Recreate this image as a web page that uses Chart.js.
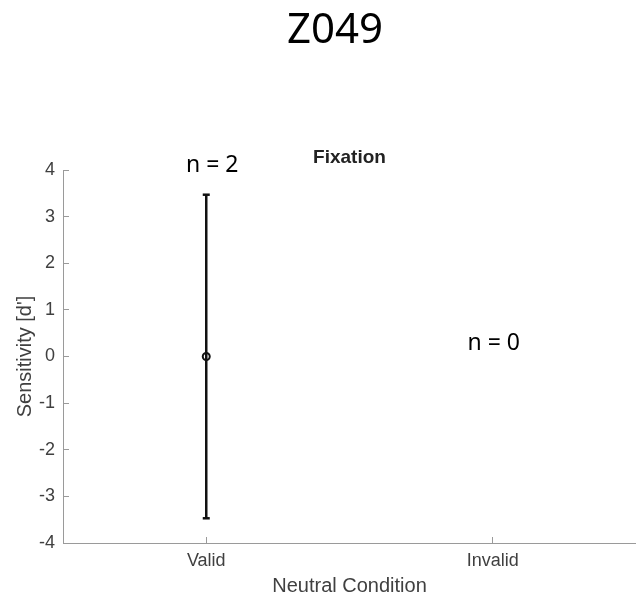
<!DOCTYPE html>
<html lang="en">
<head>
    <meta charset="UTF-8">
    <title>Z049</title>
    <script src="https://cdn.jsdelivr.net/npm/chart.js"></script>
    <style>
        body { margin: 0; background: #fff; }
        canvas { display: block; }
    </style>
</head>
<body>
    <canvas id="myChart" width="636" height="601"></canvas>

    <script>
        // data
        const figureTitle = 'Z049';
        const panelTitle = 'Fixation';
        const categories = ['Valid', 'Invalid'];
        const categoryX = [1, 2];
        const means = [0, null];          // d' mean per condition (Invalid has no data)
        const errors = [3.47, null];      // half length of the error bar
        const counts = [2, 0];            // n per condition
        const yTicks = [-4, -3, -2, -1, 0, 1, 2, 3, 4];

        const textColor = '#404040';
        const axisColor = '#9a9a9a';
        const axisFont = 'Liberation Sans, Arial, sans-serif';

        // error bar segments and mean markers
        const barData = [];
        const meanData = [];
        categoryX.forEach((x, i) => {
            if (means[i] === null) return;
            barData.push({ x: x, y: means[i] - errors[i] });
            barData.push({ x: x, y: means[i] + errors[i] });
            barData.push({ x: null, y: null });
            meanData.push({ x: x, y: means[i] });
        });

        // n = ... labels and titles, placed with the chart's scales
        const textPlugin = {
            id: 'textPlugin',
            afterDraw(chart) {
                const ctx = chart.ctx;
                const xs = chart.scales.x;
                const ys = chart.scales.y;
                const area = chart.chartArea;
                ctx.save();

                ctx.fillStyle = '#000';
                ctx.textAlign = 'center';
                ctx.textBaseline = 'alphabetic';
                ctx.font = '42px "Noto Sans", sans-serif';
                ctx.fillText(figureTitle, 335, 43);

                ctx.fillStyle = '#222';
                ctx.font = 'bold 19px ' + axisFont;
                ctx.fillText(panelTitle, (area.left + area.right) / 2, 163);

                // where the n labels sit (x shift in px, y in data units)
                const nShift = [6, 1];
                const nY = [3.96, 0.14];
                ctx.fillStyle = '#000';
                ctx.font = '23px "Noto Sans", sans-serif';
                counts.forEach((n, i) => {
                    const px = xs.getPixelForValue(categoryX[i]) + nShift[i];
                    const py = ys.getPixelForValue(nY[i]);
                    ctx.fillText('n = ' + n, px, py);
                });
                ctx.restore();
            }
        };

        const ctx = document.getElementById('myChart').getContext('2d');
        const myChart = new Chart(ctx, {
            type: 'line',
            data: {
                datasets: [
                    {
                        label: 'error',
                        data: barData,
                        borderColor: '#111',
                        borderWidth: 2.5,
                        pointStyle: 'line',
                        pointRadius: 3.5,
                        pointBorderWidth: 2.5,
                        pointBorderColor: '#111',
                        spanGaps: false
                    },
                    {
                        label: 'mean',
                        data: meanData,
                        showLine: false,
                        pointStyle: 'circle',
                        pointRadius: 3.5,
                        pointBorderWidth: 2,
                        pointBorderColor: '#111',
                        pointBackgroundColor: 'rgba(0,0,0,0)'
                    }
                ]
            },
            options: {
                responsive: false,
                animation: false,
                layout: {
                    autoPadding: false,
                    padding: { top: 170, right: 0, bottom: 0, left: 0 }
                },
                plugins: {
                    legend: { display: false },
                    tooltip: { enabled: false }
                },
                scales: {
                    x: {
                        type: 'linear',
                        min: 0.5,
                        max: 2.5,
                        afterBuildTicks: scale => {
                            scale.ticks = categoryX.map(v => ({ value: v }));
                        },
                        afterFit: scale => {
                            scale.height = 58;
                            scale.paddingLeft = 0;
                            scale.paddingRight = 0;
                        },
                        ticks: {
                            callback: v => categories[categoryX.indexOf(v)],
                            color: textColor,
                            font: { family: axisFont, size: 18 },
                            padding: 13,
                            maxRotation: 0
                        },
                        grid: {
                            drawOnChartArea: false,
                            drawTicks: true,
                            tickLength: -6,
                            color: axisColor
                        },
                        border: { color: axisColor, width: 1 },
                        title: {
                            display: true,
                            text: 'Neutral Condition',
                            color: textColor,
                            font: { family: axisFont, size: 20 },
                            padding: { top: 0, bottom: 3 }
                        }
                    },
                    y: {
                        min: -4,
                        max: 4,
                        afterBuildTicks: scale => {
                            scale.ticks = yTicks.map(v => ({ value: v }));
                        },
                        afterFit: scale => {
                            scale.width = 63;
                            scale.paddingTop = 0;
                            scale.paddingBottom = 0;
                        },
                        ticks: {
                            color: textColor,
                            font: { family: axisFont, size: 18 },
                            padding: 14
                        },
                        grid: {
                            drawOnChartArea: false,
                            drawTicks: true,
                            tickLength: -6,
                            color: axisColor
                        },
                        border: { color: axisColor, width: 1 },
                        title: {
                            display: true,
                            text: "Sensitivity [d']",
                            color: textColor,
                            font: { family: axisFont, size: 20 },
                            padding: { top: 13, bottom: 0 }
                        }
                    }
                }
            },
            plugins: [textPlugin]
        });
    </script>
</body>
</html>
